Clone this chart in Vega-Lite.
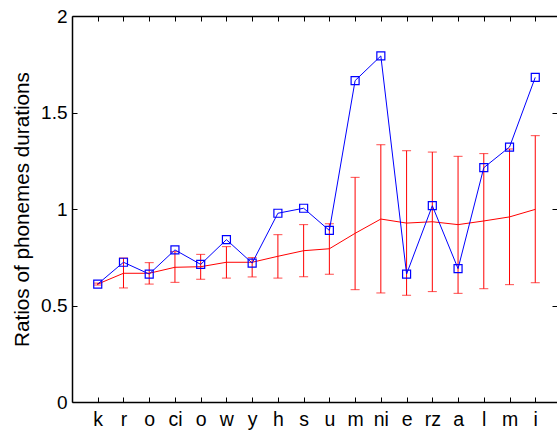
{
  "$schema": "https://vega.github.io/schema/vega-lite/v6.json",
  "width": 485,
  "height": 386,
  "autosize": {"type": "none"},
  "padding": {"left": 72, "top": 16, "right": 0, "bottom": 28},
  "background": "white",
  "config": {"view": {"stroke": null}, "font": "Liberation Sans"},
  "data": {"values": [
    {"id": "k", "blue": 0.611, "mean": 0.611, "lo": 0.606, "hi": 0.616},
    {"id": "r", "blue": 0.724, "mean": 0.667, "lo": 0.591, "hi": 0.746},
    {"id": "o", "blue": 0.663, "mean": 0.667, "lo": 0.611, "hi": 0.722},
    {"id": "ci", "blue": 0.788, "mean": 0.698, "lo": 0.620, "hi": 0.779},
    {"id": "o2", "blue": 0.713, "mean": 0.701, "lo": 0.636, "hi": 0.765},
    {"id": "w", "blue": 0.841, "mean": 0.724, "lo": 0.642, "hi": 0.805},
    {"id": "y", "blue": 0.720, "mean": 0.724, "lo": 0.648, "hi": 0.748},
    {"id": "h", "blue": 0.978, "mean": 0.755, "lo": 0.642, "hi": 0.867},
    {"id": "s", "blue": 1.004, "mean": 0.784, "lo": 0.649, "hi": 0.919},
    {"id": "u", "blue": 0.889, "mean": 0.794, "lo": 0.662, "hi": 0.924},
    {"id": "m", "blue": 1.665, "mean": 0.874, "lo": 0.582, "hi": 1.164},
    {"id": "ni", "blue": 1.793, "mean": 0.948, "lo": 0.565, "hi": 1.333},
    {"id": "e", "blue": 0.663, "mean": 0.927, "lo": 0.553, "hi": 1.302},
    {"id": "rz", "blue": 1.017, "mean": 0.934, "lo": 0.572, "hi": 1.295},
    {"id": "a", "blue": 0.691, "mean": 0.919, "lo": 0.563, "hi": 1.273},
    {"id": "l", "blue": 1.214, "mean": 0.938, "lo": 0.587, "hi": 1.287},
    {"id": "m2", "blue": 1.321, "mean": 0.959, "lo": 0.608, "hi": 1.311},
    {"id": "i", "blue": 1.682, "mean": 0.998, "lo": 0.618, "hi": 1.380}
  ]},
  "resolve": {"axis": {"x": "independent", "y": "independent"}},
  "layer": [
    {
      "mark": {"type": "rule", "color": "#ff0000", "strokeWidth": 1},
      "encoding": {
        "x": {"field": "id", "type": "ordinal",
          "scale": {"type": "point", "domain": ["k","r","o","ci","o2","w","y","h","s","u","m","ni","e","rz","a","l","m2","i"], "range": [0, 489], "padding": 1},
          "axis": {"orient": "bottom", "title": null, "grid": false, "tickSize": -5, "labelPadding": 13, "labelAngle": 0,
            "labelFont": "Liberation Sans", "labelFontSize": 19.5, "labelColor": "black",
            "domainColor": "black", "domainWidth": 1.5, "tickColor": "black", "tickWidth": 1,
            "labelExpr": "replace(datum.label, '2', '')"}},
        "y": {"field": "lo", "type": "quantitative", "scale": {"domain": [0, 2], "nice": false},
          "axis": {"orient": "left", "values": [0, 0.5, 1, 1.5, 2], "format": "~g", "grid": false, "tickSize": -5, "labelPadding": 10,
            "labelFont": "Liberation Sans", "labelFontSize": 19, "labelColor": "black",
            "domainColor": "black", "domainWidth": 1.5, "tickColor": "black", "tickWidth": 1,
            "title": "Ratios of phonemes durations", "titleFont": "Liberation Sans", "titleFontSize": 20.7, "titleFontWeight": "normal", "titleColor": "black", "titlePadding": 8}},
        "y2": {"field": "hi"}
      }
    },
    {
      "mark": {"type": "tick", "color": "#ff0000", "size": 9, "thickness": 1},
      "encoding": {
        "x": {"field": "id", "type": "ordinal", "axis": null},
        "y": {"field": "lo", "type": "quantitative", "axis": null}
      }
    },
    {
      "mark": {"type": "tick", "color": "#ff0000", "size": 9, "thickness": 1},
      "encoding": {
        "x": {"field": "id", "type": "ordinal", "axis": null},
        "y": {"field": "hi", "type": "quantitative", "axis": null}
      }
    },
    {
      "mark": {"type": "line", "color": "#ff0000", "strokeWidth": 1},
      "encoding": {
        "x": {"field": "id", "type": "ordinal", "axis": null},
        "y": {"field": "mean", "type": "quantitative", "axis": null}
      }
    },
    {
      "mark": {"type": "line", "color": "#0000ff", "strokeWidth": 1},
      "encoding": {
        "x": {"field": "id", "type": "ordinal", "axis": null},
        "y": {"field": "blue", "type": "quantitative", "axis": null}
      }
    },
    {
      "mark": {"type": "point", "shape": "square", "filled": false, "color": "#0000ff", "size": 64, "strokeWidth": 1.2, "opacity": 1},
      "encoding": {
        "x": {"field": "id", "type": "ordinal",
          "axis": {"orient": "top", "title": null, "labels": false, "grid": false, "tickSize": -5, "domainColor": "black", "domainWidth": 1.5, "tickColor": "black", "tickWidth": 1}},
        "y": {"field": "blue", "type": "quantitative",
          "axis": {"orient": "right", "title": null, "labels": false, "grid": false, "values": [0, 0.5, 1, 1.5, 2], "tickSize": -5, "domain": false, "tickColor": "black", "tickWidth": 1}}
      }
    }
  ]
}
